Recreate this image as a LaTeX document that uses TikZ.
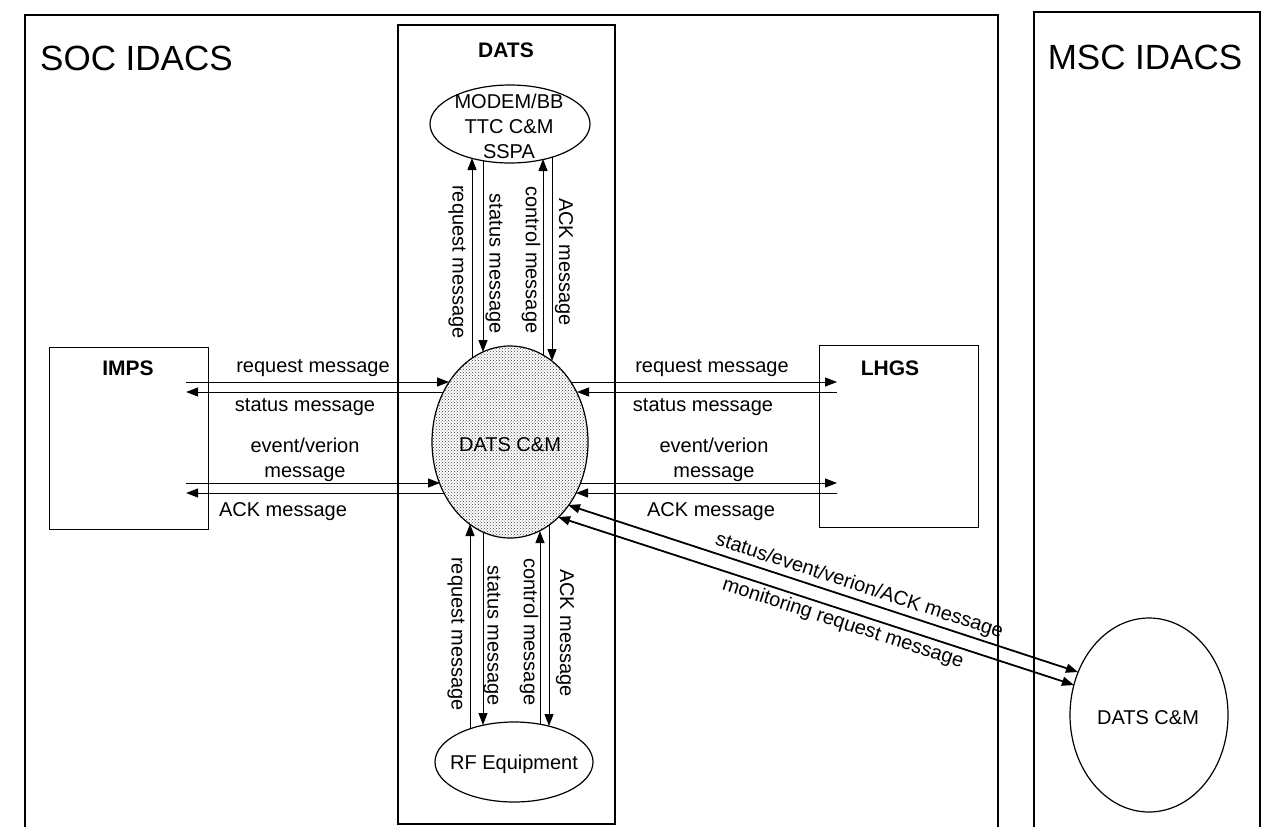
\documentclass[tikz,border=0pt]{standalone}
\usepackage{fontspec}
\setmainfont{Liberation Sans}
\usetikzlibrary{shapes.geometric,arrows.meta,calc,patterns}
\begin{document}
\begin{tikzpicture}[x=1pt,y=-1pt,
  frame/.style={line width=1.2pt},
  ell/.style={ellipse,draw,line width=1.2pt,inner sep=0pt},
  box/.style={rectangle,draw,line width=1.1pt,inner sep=0pt},
  lbl/.style={font=\fontsize{20}{25}\selectfont,inner sep=1pt},
  hd/.style={font=\bfseries\fontsize{21}{25}\selectfont,inner sep=0pt},
  ttl/.style={font=\fontsize{35}{40}\selectfont,inner sep=0pt},
  arr/.style={line width=1pt,-{Triangle[length=12pt,width=9pt]}},
  darr/.style={line width=1.8pt,{Triangle[length=12pt,width=9pt]}-{Triangle[length=12pt,width=9pt]}},
  vl/.style={lbl,rotate=-90}]
\useasboundingbox (0,0) rectangle (1265,827);
\fill[white] (0,0) rectangle (1265,827);

% frames
\draw[frame] (25,827) -- (25,15) -- (998,15) -- (998,827);
\draw[frame] (1034,827) -- (1034,12) -- (1260,12) -- (1260,827);
\draw[frame] (398,25) rectangle (615,824);

\node[ttl,anchor=west] (soc) at (40,58) {SOC IDACS};
\node[ttl] (mscidacs) at (1145,57) {MSC IDACS};
\node[hd] (dats) at (506,50) {DATS};

% ellipses
\node[ell,minimum width=160,minimum height=78] (modem) at (510,124) {};
\node[lbl,align=center] (modemt) at (509,126) {MODEM/BB\\TTC C\&M\\SSPA};
\node[ell,pattern=crosshatch dots,pattern color=black!75,minimum width=156,minimum height=192] (cm) at (510,442) {};
\node[lbl] (cmt) at (510,445) {DATS C\&M};
\node[ell,minimum width=158,minimum height=80] (rf) at (514,762) {};
\node[lbl] (rft) at (514,764) {RF Equipment};
\node[ell,minimum width=158,minimum height=194] (msc) at (1149,715) {};
\node[lbl] (msct) at (1148,718) {DATS C\&M};

% boxes
\node[box,anchor=north west,minimum width=159,minimum height=182] (imps) at (49,347) {};
\node[hd] (impst) at (128,368) {IMPS};
\node[box,anchor=north west,minimum width=159,minimum height=182] (lhgs) at (819,345) {};
\node[hd] (lhgst) at (890,368) {LHGS};

% left horizontal arrows
\draw[arr] ($(imps.north east)+(-23,35)$) -- ($(cm.center)+(-61,-60)$);
\draw[arr] ($(cm.center)+(-67,-50)$) -- ($(imps.north east)+(-23,45)$);
\draw[arr] ($(imps.north east)+(-23,136)$) -- ($(cm.center)+(-70,41)$);
\draw[arr] ($(cm.center)+(-66,51)$) -- ($(imps.north east)+(-23,146)$);
\node[lbl] (l1) at (313,368) {request message};
\node[lbl] (l2) at (305,407) {status message};
\node[lbl,align=center] (l3) at (305,460) {event/verion\\message};
\node[lbl] (l4) at (283,512) {ACK message};

% right horizontal arrows
\draw[arr] ($(cm.center)+(61,-60)$) -- ($(lhgs.north west)+(18,37)$);
\draw[arr] ($(lhgs.north west)+(18,47)$) -- ($(cm.center)+(67,-50)$);
\draw[arr] ($(cm.center)+(70,41)$) -- ($(lhgs.north west)+(18,138)$);
\draw[arr] ($(lhgs.north west)+(18,148)$) -- ($(cm.center)+(66,51)$);
\node[lbl] (r1) at (712,368) {request message};
\node[lbl] (r2) at (703,407) {status message};
\node[lbl,align=center] (r3) at (714,460) {event/verion\\message};
\node[lbl] (r4) at (711,512) {ACK message};

% top vertical arrows
\draw[arr] ($(cm.center)+(-38,-84)$) -- ($(modem.center)+(-38,34)$);
\draw[arr] ($(modem.center)+(-27,37)$) -- ($(cm.center)+(-27,-90)$);
\draw[arr] ($(cm.center)+(33,-87)$) -- ($(modem.center)+(33,35)$);
\draw[arr] ($(modem.center)+(42,33)$) -- ($(cm.center)+(42,-81)$);
\node[vl] (t1) at (457,262) {request message};
\node[vl] (t2) at (494,264) {status message};
\node[vl] (t3) at (531,260) {control message};
\node[vl] (t4) at (564,262) {ACK message};

% bottom vertical arrows
\draw[arr] ($(rf.center)+(-44,-33)$) -- ($(cm.center)+(-40,82)$);
\draw[arr] ($(cm.center)+(-27,90)$) -- ($(rf.center)+(-31,-37)$);
\draw[arr] ($(rf.center)+(26,-38)$) -- ($(cm.center)+(30,89)$);
\draw[arr] ($(cm.center)+(39,83)$) -- ($(rf.center)+(35,-36)$);
\node[vl] (b1) at (456,634) {request message};
\node[vl] (b2) at (492,636) {status message};
\node[vl] (b3) at (529,632) {control message};
\node[vl] (b4) at (565,633) {ACK message};

% diagonal arrows to MSC
\draw[darr] ($(cm.center)+(58,63)$) -- node[lbl,sloped,above,pos=0.563,inner sep=3pt] (d1) {status/event/verion/ACK message} ($(msc.center)+(-71,-43)$);
\draw[darr] ($(cm.center)+(48,75)$) -- node[lbl,sloped,below,pos=0.56,inner sep=3pt] (d2) {monitoring request message} ($(msc.center)+(-75,-30)$);
\end{tikzpicture}
\end{document}
